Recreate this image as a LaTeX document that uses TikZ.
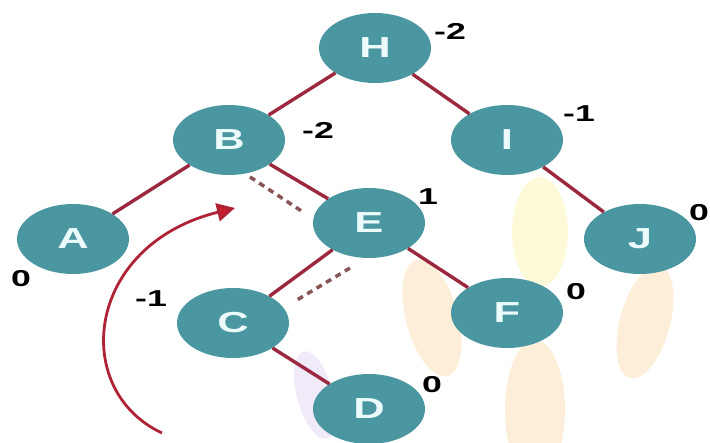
\documentclass[tikz,border=0pt]{standalone}
\usepackage{fontspec}
\setmainfont{Liberation Sans}
\usepackage{graphicx}
\usetikzlibrary{shapes.geometric,arrows.meta}
\definecolor{nodeteal}{RGB}{74,150,161}
\definecolor{edgered}{RGB}{155,40,62}
\definecolor{dashbrown}{RGB}{135,85,85}
\definecolor{arrowred}{RGB}{175,35,55}
\definecolor{tipred}{RGB}{200,30,45}
\definecolor{lettercol}{RGB}{235,250,250}
\definecolor{blobor}{RGB}{250,200,130}
\definecolor{blobye}{RGB}{245,240,130}
\definecolor{blobpu}{RGB}{205,185,235}
\newcommand{\nodeletter}[1]{\scalebox{1.5}[1]{\fontsize{29}{29}\selectfont\bfseries #1}}
\newcommand{\ballabel}[1]{\scalebox{1.55}[1]{\fontsize{23}{23}\selectfont\bfseries #1}}
\begin{document}
\begin{tikzpicture}[x=1pt,y=-1pt,
  tnode/.style={ellipse, fill=nodeteal, minimum width=112pt, minimum height=70pt, inner sep=0pt, text=lettercol},
  bal/.style={inner sep=0pt, text=black},
  edge/.style={draw=edgered, line width=3.4pt},
  hint/.style={draw=dashbrown, line width=3.5pt, dash pattern=on 6pt off 5pt},
  blob/.style={fill opacity=0.3}]
\useasboundingbox (0,0) rectangle (710,443);
% faint background blobs
\fill[blob, fill=blobye] (540,232) ellipse [x radius=28, y radius=55];
\fill[blob, fill=blobor, rotate around={15:(432,318)}] (432,318) ellipse [x radius=26, y radius=60];
\fill[blob, fill=blobor] (535,410) ellipse [x radius=30, y radius=70];
\fill[blob, fill=blobor, rotate around={-15:(645,322)}] (645,322) ellipse [x radius=25, y radius=58];
\fill[blob, fill=blobpu, rotate around={15:(315,395)}] (315,395) ellipse [x radius=18, y radius=45];
% nodes
\node[tnode] (H) at (375,48) {\nodeletter{H}};
\node[tnode] (B) at (229,140) {\nodeletter{B}};
\node[tnode] (I) at (507,140) {\nodeletter{I}};
\node[tnode] (A) at (73,239) {\nodeletter{A}};
\node[tnode] (E) at (369,223) {\nodeletter{E}};
\node[tnode] (J) at (640,239) {\nodeletter{J}};
\node[tnode] (C) at (233,323) {\nodeletter{C}};
\node[tnode] (F) at (507,313) {\nodeletter{F}};
\node[tnode] (D) at (369,409) {\nodeletter{D}};
% edges
\draw[edge] (H) -- (B);
\draw[edge] (H) -- (I);
\draw[edge] (B) -- (A);
\draw[edge] (B) -- (E);
\draw[edge] (I) -- (J);
\draw[edge] (E) -- (C);
\draw[edge] (E) -- (F);
\draw[edge] (C) -- (D);
% dashed hints
\coordinate (d1a) at (250,177);
\coordinate (d1b) at (303,212);
\coordinate (d2a) at (350,268);
\coordinate (d2b) at (297,300);
\draw[hint] (d1a) -- (d1b);
\draw[hint] (d2a) -- (d2b);
% rotation arrow
\coordinate (arrS) at (162,433);
\coordinate (arrE) at (235,208);
\draw[draw=arrowred, line width=2.8pt, -{Triangle[length=18pt,width=18pt,fill=tipred]}] (arrS) .. controls (70,390) and (85,245) .. (arrE);
% balance labels
\node[bal] (lH) at (450,31) {\ballabel{-2}};
\node[bal] (lB) at (318,130) {\ballabel{-2}};
\node[bal] (lI) at (579,114) {\ballabel{-1}};
\node[bal] (lE) at (428,197) {\ballabel{1}};
\node[bal] (lA) at (21,279) {\ballabel{0}};
\node[bal] (lC) at (151,299) {\ballabel{-1}};
\node[bal] (lF) at (576,292) {\ballabel{0}};
\node[bal] (lJ) at (699,213) {\ballabel{0}};
\node[bal] (lD) at (432,385) {\ballabel{0}};
\end{tikzpicture}
\end{document}
